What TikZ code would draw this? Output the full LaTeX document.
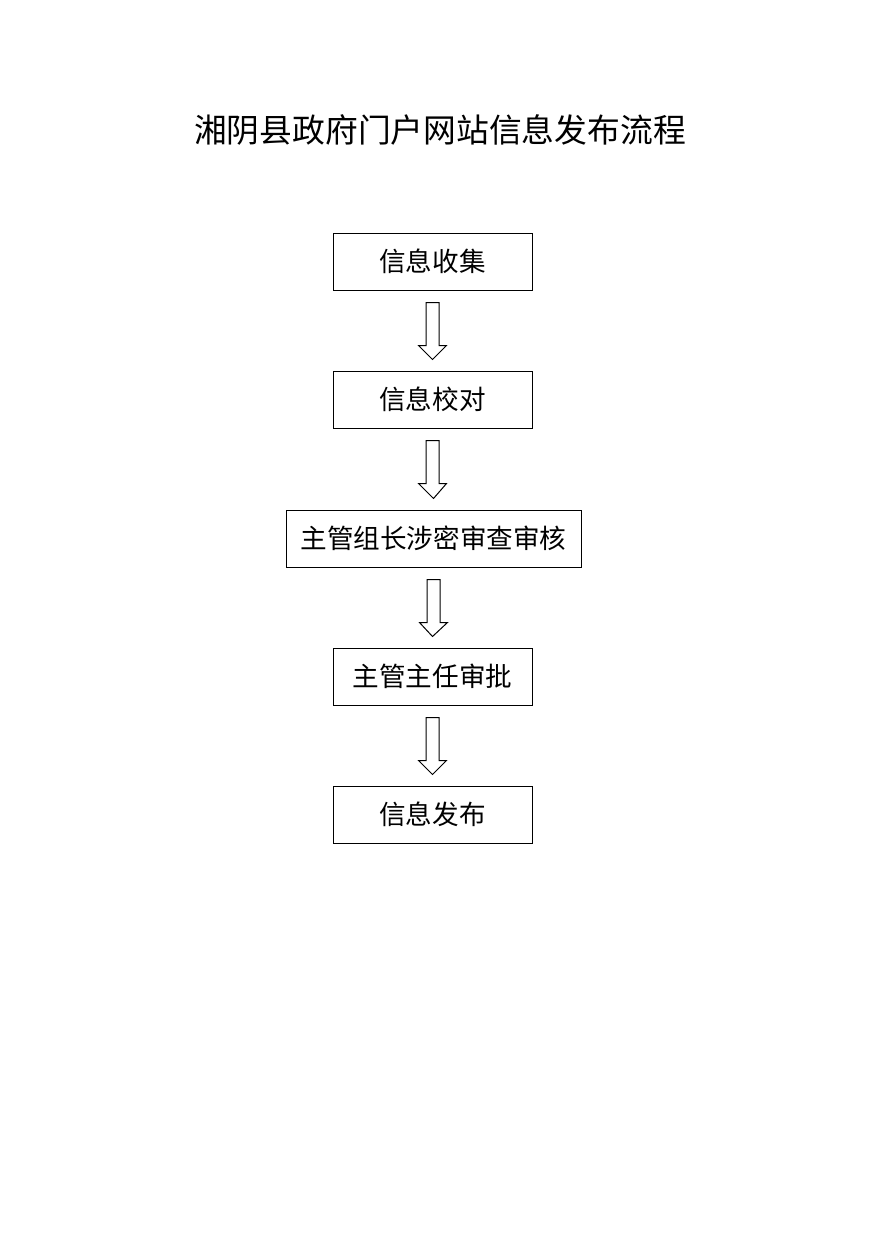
\documentclass[tikz,border=0pt]{standalone}
\usepackage{fontspec}
\newfontfamily\cjk{Noto Sans CJK SC}
\usetikzlibrary{calc}

\tikzset{
	stepbox/.style={draw, line width=0.5pt, minimum width=99.5pt, minimum height=28.5pt, inner sep=0pt, font=\cjk\fontsize{13.3}{15}\selectfont},
	hollowarrow/.style={draw, line width=0.5pt, line join=miter}
}

\begin{document}
\begin{tikzpicture}[x=0.5pt, y=-0.5pt]
	\useasboundingbox (0,0) rectangle (880,1244);
	\node[font=\cjk\fontsize{16.4}{19}\selectfont] (title) at (440,130) {湘阴县政府门户网站信息发布流程};
	\node[stepbox] (collect) at (432.5,261.5) {信息收集};
	\node[stepbox] (proof) at (432.5,399.5) {信息校对};
	\node[stepbox, minimum width=147.5pt] (review) at (433.5,538.5) {主管组长涉密审查审核};
	\node[stepbox] (approve) at (432.5,676.5) {主管主任审批};
	\node[stepbox] (publish) at (432.5,814.5) {信息发布};
	% hollow arrows between steps
	\foreach \a/\b in {collect/proof, proof/review, review/approve, approve/publish} {
		\draw[hollowarrow] ($(\a.south)+(-6.5,12)$) -- ($(\a.south)+(6.5,12)$) -- ($(\a.south)+(6.5,55)$) -- ($(\a.south)+(14,55)$) -- ($(\b.north)+(0,-11)$) -- ($(\a.south)+(-14,55)$) -- ($(\a.south)+(-6.5,55)$) -- cycle;
	}
\end{tikzpicture}
\end{document}
